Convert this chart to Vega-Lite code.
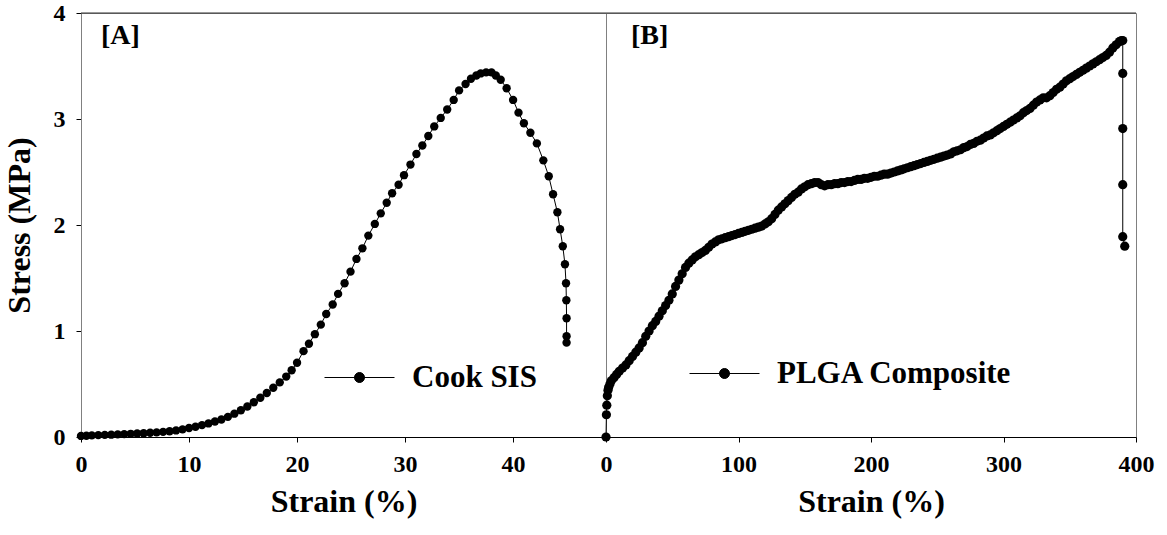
{
  "$schema": "https://vega.github.io/schema/vega-lite/v6.json",
  "padding": {"left": 2, "top": 0, "right": 5, "bottom": 5},
  "bounds": "flush",
  "spacing": 0,
  "background": "white",
  "config": {
    "font": "Liberation Serif",
    "view": {"stroke": "#808080", "strokeWidth": 1},
    "text": {"font": "Liberation Serif", "fontWeight": "bold", "color": "black"}
  },
  "datasets": {
    "cook": [
      {"strain": 0.0, "stress": 0.010}, {"strain": 0.5, "stress": 0.012}, {"strain": 1.0, "stress": 0.015},
      {"strain": 1.6, "stress": 0.018}, {"strain": 2.2, "stress": 0.020}, {"strain": 2.8, "stress": 0.022},
      {"strain": 3.4, "stress": 0.025}, {"strain": 4.0, "stress": 0.027}, {"strain": 4.6, "stress": 0.030},
      {"strain": 5.2, "stress": 0.033}, {"strain": 5.8, "stress": 0.036}, {"strain": 6.4, "stress": 0.040},
      {"strain": 7.0, "stress": 0.044}, {"strain": 7.6, "stress": 0.048}, {"strain": 8.2, "stress": 0.054},
      {"strain": 8.8, "stress": 0.062}, {"strain": 9.4, "stress": 0.072}, {"strain": 10.0, "stress": 0.085},
      {"strain": 10.6, "stress": 0.097}, {"strain": 11.2, "stress": 0.112}, {"strain": 11.8, "stress": 0.128},
      {"strain": 12.4, "stress": 0.146}, {"strain": 13.0, "stress": 0.165}, {"strain": 13.6, "stress": 0.190},
      {"strain": 14.2, "stress": 0.220}, {"strain": 14.8, "stress": 0.252}, {"strain": 15.4, "stress": 0.288},
      {"strain": 16.0, "stress": 0.328}, {"strain": 16.6, "stress": 0.370}, {"strain": 17.2, "stress": 0.415},
      {"strain": 17.8, "stress": 0.465}, {"strain": 18.4, "stress": 0.515}, {"strain": 19.0, "stress": 0.570},
      {"strain": 19.5, "stress": 0.630}, {"strain": 20.0, "stress": 0.700}, {"strain": 20.6, "stress": 0.81},
      {"strain": 21.1, "stress": 0.88}, {"strain": 21.65, "stress": 0.97}, {"strain": 22.2, "stress": 1.06},
      {"strain": 22.7, "stress": 1.16}, {"strain": 23.3, "stress": 1.25}, {"strain": 23.8, "stress": 1.35},
      {"strain": 24.4, "stress": 1.45}, {"strain": 24.95, "stress": 1.56}, {"strain": 25.5, "stress": 1.68},
      {"strain": 26.05, "stress": 1.78}, {"strain": 26.6, "stress": 1.90}, {"strain": 27.2, "stress": 2.01},
      {"strain": 27.75, "stress": 2.11}, {"strain": 28.3, "stress": 2.21}, {"strain": 28.8, "stress": 2.30},
      {"strain": 29.4, "stress": 2.38}, {"strain": 29.9, "stress": 2.47}, {"strain": 30.5, "stress": 2.57},
      {"strain": 31.05, "stress": 2.67}, {"strain": 31.6, "stress": 2.75}, {"strain": 32.15, "stress": 2.84},
      {"strain": 32.7, "stress": 2.93}, {"strain": 33.3, "stress": 3.01}, {"strain": 33.9, "stress": 3.09},
      {"strain": 34.5, "stress": 3.18}, {"strain": 35.0, "stress": 3.27}, {"strain": 35.6, "stress": 3.33},
      {"strain": 36.1, "stress": 3.38}, {"strain": 36.6, "stress": 3.41}, {"strain": 37.0, "stress": 3.43},
      {"strain": 37.5, "stress": 3.44}, {"strain": 38.0, "stress": 3.44}, {"strain": 38.4, "stress": 3.41},
      {"strain": 38.85, "stress": 3.37}, {"strain": 39.4, "stress": 3.29}, {"strain": 40.0, "stress": 3.18},
      {"strain": 40.5, "stress": 3.06}, {"strain": 41.0, "stress": 2.96}, {"strain": 41.6, "stress": 2.87},
      {"strain": 42.2, "stress": 2.77}, {"strain": 42.8, "stress": 2.61}, {"strain": 43.3, "stress": 2.46},
      {"strain": 43.7, "stress": 2.29}, {"strain": 44.1, "stress": 2.12}, {"strain": 44.35, "stress": 1.96},
      {"strain": 44.6, "stress": 1.80}, {"strain": 44.8, "stress": 1.63}, {"strain": 44.9, "stress": 1.45},
      {"strain": 44.93, "stress": 1.29}, {"strain": 44.95, "stress": 1.12}, {"strain": 44.95, "stress": 0.95},
      {"strain": 44.95, "stress": 0.89}
    ],
    "plga": [
      {"strain": 0, "stress": 0}, {"strain": 0.3, "stress": 0.21}, {"strain": 0.6, "stress": 0.30},
      {"strain": 1, "stress": 0.39}, {"strain": 1.5, "stress": 0.44}, {"strain": 2, "stress": 0.47},
      {"strain": 3, "stress": 0.50}, {"strain": 4, "stress": 0.53}, {"strain": 6, "stress": 0.56},
      {"strain": 8, "stress": 0.59}, {"strain": 10, "stress": 0.62}, {"strain": 12.5, "stress": 0.65},
      {"strain": 15, "stress": 0.68}, {"strain": 17.5, "stress": 0.72}, {"strain": 20, "stress": 0.76},
      {"strain": 22.5, "stress": 0.80}, {"strain": 25, "stress": 0.84}, {"strain": 27.5, "stress": 0.89},
      {"strain": 30, "stress": 0.95}, {"strain": 32.5, "stress": 1.00}, {"strain": 35, "stress": 1.05},
      {"strain": 37.5, "stress": 1.09}, {"strain": 40, "stress": 1.14}, {"strain": 42.5, "stress": 1.19},
      {"strain": 45, "stress": 1.24}, {"strain": 47.5, "stress": 1.29}, {"strain": 50, "stress": 1.35},
      {"strain": 52.5, "stress": 1.42}, {"strain": 55, "stress": 1.48}, {"strain": 57.5, "stress": 1.54},
      {"strain": 60, "stress": 1.60}, {"strain": 62.5, "stress": 1.64}, {"strain": 65, "stress": 1.67},
      {"strain": 67.5, "stress": 1.70}, {"strain": 70, "stress": 1.72}, {"strain": 72.5, "stress": 1.74},
      {"strain": 75, "stress": 1.76}, {"strain": 77.5, "stress": 1.79}, {"strain": 80, "stress": 1.82},
      {"strain": 82.5, "stress": 1.84}, {"strain": 85, "stress": 1.86}, {"strain": 87.5, "stress": 1.87},
      {"strain": 90, "stress": 1.88}, {"strain": 92.5, "stress": 1.89}, {"strain": 95, "stress": 1.90},
      {"strain": 97.5, "stress": 1.91}, {"strain": 100, "stress": 1.92}, {"strain": 102.5, "stress": 1.93},
      {"strain": 105, "stress": 1.94}, {"strain": 107.5, "stress": 1.95}, {"strain": 110, "stress": 1.96},
      {"strain": 112.5, "stress": 1.97}, {"strain": 115, "stress": 1.98}, {"strain": 117.5, "stress": 1.99},
      {"strain": 120, "stress": 2.01}, {"strain": 122.5, "stress": 2.03}, {"strain": 125, "stress": 2.06},
      {"strain": 127.5, "stress": 2.10}, {"strain": 130, "stress": 2.14}, {"strain": 132.5, "stress": 2.17},
      {"strain": 135, "stress": 2.20}, {"strain": 137.5, "stress": 2.23}, {"strain": 140, "stress": 2.26},
      {"strain": 142.5, "stress": 2.29}, {"strain": 145, "stress": 2.31}, {"strain": 147.5, "stress": 2.34},
      {"strain": 150, "stress": 2.36}, {"strain": 152.5, "stress": 2.38}, {"strain": 155, "stress": 2.39},
      {"strain": 157.5, "stress": 2.40}, {"strain": 160, "stress": 2.40}, {"strain": 162.5, "stress": 2.38},
      {"strain": 165, "stress": 2.37}, {"strain": 167.5, "stress": 2.38}, {"strain": 170, "stress": 2.38},
      {"strain": 172.5, "stress": 2.39}, {"strain": 175, "stress": 2.39}, {"strain": 177.5, "stress": 2.40},
      {"strain": 180, "stress": 2.40}, {"strain": 182.5, "stress": 2.41}, {"strain": 185, "stress": 2.41},
      {"strain": 187.5, "stress": 2.42}, {"strain": 190, "stress": 2.43}, {"strain": 192.5, "stress": 2.43},
      {"strain": 195, "stress": 2.44}, {"strain": 197.5, "stress": 2.44}, {"strain": 200, "stress": 2.45},
      {"strain": 202.5, "stress": 2.46}, {"strain": 205, "stress": 2.46}, {"strain": 207.5, "stress": 2.47},
      {"strain": 210, "stress": 2.48}, {"strain": 212.5, "stress": 2.48}, {"strain": 215, "stress": 2.49},
      {"strain": 217.5, "stress": 2.50}, {"strain": 220, "stress": 2.51}, {"strain": 222.5, "stress": 2.52},
      {"strain": 225, "stress": 2.53}, {"strain": 227.5, "stress": 2.54}, {"strain": 230, "stress": 2.55},
      {"strain": 232.5, "stress": 2.56}, {"strain": 235, "stress": 2.57}, {"strain": 237.5, "stress": 2.58},
      {"strain": 240, "stress": 2.59}, {"strain": 242.5, "stress": 2.60}, {"strain": 245, "stress": 2.61},
      {"strain": 247.5, "stress": 2.62}, {"strain": 250, "stress": 2.63}, {"strain": 252.5, "stress": 2.64},
      {"strain": 255, "stress": 2.65}, {"strain": 257.5, "stress": 2.66}, {"strain": 260, "stress": 2.67},
      {"strain": 262.5, "stress": 2.69}, {"strain": 265, "stress": 2.70}, {"strain": 267.5, "stress": 2.71},
      {"strain": 270, "stress": 2.73}, {"strain": 272.5, "stress": 2.74}, {"strain": 275, "stress": 2.76},
      {"strain": 277.5, "stress": 2.77}, {"strain": 280, "stress": 2.79}, {"strain": 282.5, "stress": 2.80},
      {"strain": 285, "stress": 2.82}, {"strain": 287.5, "stress": 2.84}, {"strain": 290, "stress": 2.85},
      {"strain": 292.5, "stress": 2.87}, {"strain": 295, "stress": 2.89}, {"strain": 297.5, "stress": 2.91},
      {"strain": 300, "stress": 2.93}, {"strain": 302.5, "stress": 2.95}, {"strain": 305, "stress": 2.97},
      {"strain": 307.5, "stress": 2.99}, {"strain": 310, "stress": 3.01}, {"strain": 312.5, "stress": 3.03},
      {"strain": 315, "stress": 3.06}, {"strain": 317.5, "stress": 3.08}, {"strain": 320, "stress": 3.10},
      {"strain": 322.5, "stress": 3.13}, {"strain": 325, "stress": 3.16}, {"strain": 327.5, "stress": 3.18},
      {"strain": 330, "stress": 3.20}, {"strain": 332.5, "stress": 3.20}, {"strain": 335, "stress": 3.22},
      {"strain": 337.5, "stress": 3.25}, {"strain": 340, "stress": 3.28}, {"strain": 342.5, "stress": 3.30},
      {"strain": 345, "stress": 3.33}, {"strain": 347.5, "stress": 3.36}, {"strain": 350, "stress": 3.38},
      {"strain": 352.5, "stress": 3.40}, {"strain": 355, "stress": 3.42}, {"strain": 357.5, "stress": 3.44},
      {"strain": 360, "stress": 3.46}, {"strain": 362.5, "stress": 3.48}, {"strain": 365, "stress": 3.50},
      {"strain": 367.5, "stress": 3.52}, {"strain": 370, "stress": 3.54}, {"strain": 372.5, "stress": 3.56},
      {"strain": 375, "stress": 3.58}, {"strain": 377.5, "stress": 3.60}, {"strain": 380, "stress": 3.63},
      {"strain": 382.5, "stress": 3.67}, {"strain": 385, "stress": 3.70}, {"strain": 387.5, "stress": 3.73},
      {"strain": 389, "stress": 3.74}, {"strain": 390, "stress": 3.74}, {"strain": 390, "stress": 3.43},
      {"strain": 390, "stress": 2.91}, {"strain": 390, "stress": 2.38}, {"strain": 390, "stress": 1.89},
      {"strain": 391.5, "stress": 1.80}
    ],
    "panelTags": [{"panel": "A", "tag": "[A]"}, {"panel": "B", "tag": "[B]"}]
  },
  "hconcat": [
    {
      "width": 525,
      "height": 424,
      "layer": [
        {
          "data": {"name": "cook"},
          "mark": {"type": "line", "color": "black", "strokeWidth": 1},
          "encoding": {
            "x": {
              "field": "strain", "type": "quantitative",
              "scale": {"domain": [0, 48.6], "nice": false, "zero": false},
              "axis": {
                "values": [0, 10, 20, 30, 40], "format": "d", "grid": false,
                "title": "Strain (%)", "titleFont": "Liberation Serif", "titleFontSize": 32,
                "titleFontWeight": "bold", "titleColor": "black", "titlePadding": 10,
                "labelFont": "Liberation Serif", "labelFontSize": 24, "labelFontWeight": "bold",
                "labelColor": "black", "labelPadding": 10, "labelFlush": false,
                "tickSize": 5, "tickColor": "black", "domainColor": "black"
              }
            },
            "y": {
              "field": "stress", "type": "quantitative",
              "scale": {"domain": [0, 4], "nice": false},
              "axis": {
                "values": [0, 1, 2, 3, 4], "format": "d", "grid": false,
                "title": "Stress (MPa)", "titleFont": "Liberation Serif", "titleFontSize": 32,
                "titleFontWeight": "bold", "titleColor": "black", "titlePadding": 16,
                "labelFont": "Liberation Serif", "labelFontSize": 24, "labelFontWeight": "bold",
                "labelColor": "black", "labelPadding": 11, "labelFlush": false,
                "tickSize": 5, "tickColor": "black", "domainColor": "#808080",
                "minExtent": 29, "maxExtent": 29
              }
            }
          }
        },
        {
          "data": {"name": "cook"},
          "mark": {"type": "point", "filled": true, "size": 70, "opacity": 1},
          "encoding": {
            "x": {"field": "strain", "type": "quantitative"},
            "y": {"field": "stress", "type": "quantitative"},
            "color": {
              "datum": "Cook SIS", "type": "nominal",
              "scale": {"range": ["black"]},
              "legend": {
                "orient": "none", "legendX": 243, "legendY": 329, "title": null,
                "symbolType": "M-1,0H1M0.143,0A0.143,0.143,0,1,1,-0.143,0A0.143,0.143,0,1,1,0.143,0Z",
                "symbolSize": 4900, "symbolFillColor": "black", "symbolStrokeColor": "black",
                "symbolStrokeWidth": 1, "symbolOpacity": 1,
                "labelFont": "Liberation Serif", "labelFontWeight": "bold", "labelFontSize": 31,
                "labelColor": "black", "labelOffset": 17, "labelLimit": 400
              }
            }
          }
        },
        {
          "data": {"name": "panelTags"},
          "transform": [{"filter": "datum.panel == 'A'"}],
          "mark": {"type": "rule", "color": "#333333", "strokeWidth": 1},
          "encoding": {
            "y": {"datum": 4, "type": "quantitative"}
          }
        },
        {
          "data": {"name": "panelTags"},
          "transform": [{"filter": "datum.panel == 'A'"}],
          "mark": {"type": "text", "align": "left", "baseline": "alphabetic", "fontSize": 28, "fontWeight": "bold", "font": "Liberation Serif", "color": "black"},
          "encoding": {
            "x": {"datum": 1.85, "type": "quantitative"},
            "y": {"datum": 3.71, "type": "quantitative"},
            "text": {"field": "tag", "type": "nominal"}
          }
        }
      ]
    },
    {
      "width": 530,
      "height": 424,
      "layer": [
        {
          "data": {"name": "plga"},
          "mark": {"type": "line", "color": "black", "strokeWidth": 1},
          "encoding": {
            "x": {
              "field": "strain", "type": "quantitative",
              "scale": {"domain": [0, 400], "nice": false, "zero": false},
              "axis": {
                "values": [0, 100, 200, 300, 400], "format": "d", "grid": false,
                "title": "Strain (%)", "titleFont": "Liberation Serif", "titleFontSize": 32,
                "titleFontWeight": "bold", "titleColor": "black", "titlePadding": 10,
                "labelFont": "Liberation Serif", "labelFontSize": 24, "labelFontWeight": "bold",
                "labelColor": "black", "labelPadding": 10, "labelFlush": false,
                "tickSize": 5, "tickColor": "black", "domainColor": "black"
              }
            },
            "y": {
              "field": "stress", "type": "quantitative",
              "scale": {"domain": [0, 4], "nice": false},
              "axis": {"labels": false, "ticks": false, "grid": false, "title": null, "domainColor": "#808080"}
            }
          }
        },
        {
          "data": {"name": "plga"},
          "mark": {"type": "point", "filled": true, "size": 85, "opacity": 1},
          "encoding": {
            "x": {"field": "strain", "type": "quantitative"},
            "y": {"field": "stress", "type": "quantitative"},
            "color": {
              "datum": "PLGA Composite", "type": "nominal",
              "scale": {"range": ["black"]},
              "legend": {
                "orient": "none", "legendX": 83, "legendY": 325, "title": null,
                "symbolType": "M-1,0H1M0.143,0A0.143,0.143,0,1,1,-0.143,0A0.143,0.143,0,1,1,0.143,0Z",
                "symbolSize": 4900, "symbolFillColor": "black", "symbolStrokeColor": "black",
                "symbolStrokeWidth": 1, "symbolOpacity": 1,
                "labelFont": "Liberation Serif", "labelFontWeight": "bold", "labelFontSize": 31,
                "labelColor": "black", "labelOffset": 17, "labelLimit": 400
              }
            }
          }
        },
        {
          "data": {"name": "panelTags"},
          "transform": [{"filter": "datum.panel == 'B'"}],
          "mark": {"type": "rule", "color": "#333333", "strokeWidth": 1},
          "encoding": {
            "y": {"datum": 4, "type": "quantitative"}
          }
        },
        {
          "data": {"name": "panelTags"},
          "transform": [{"filter": "datum.panel == 'B'"}],
          "mark": {"type": "text", "align": "left", "baseline": "alphabetic", "fontSize": 28, "fontWeight": "bold", "font": "Liberation Serif", "color": "black"},
          "encoding": {
            "x": {"datum": 18.9, "type": "quantitative"},
            "y": {"datum": 3.71, "type": "quantitative"},
            "text": {"field": "tag", "type": "nominal"}
          }
        }
      ]
    }
  ],
  "resolve": {
    "scale": {"x": "independent", "color": "independent"},
    "legend": {"color": "independent"}
  }
}
